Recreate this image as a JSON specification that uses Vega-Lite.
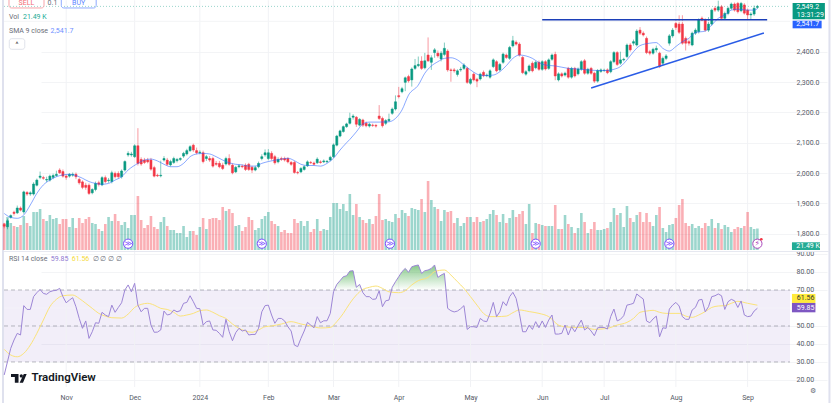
{"$schema":"https://vega.github.io/schema/vega-lite/v6.json","width":831,"height":403,"autosize":"none","padding":0,"background":"white","config":{"view":{"stroke":null},"font":"Roboto"},
"datasets":{
"bars":[
{"b":-1,"o":1831,"h":1836,"l":1818,"c":1825,"v":27,"r":22.8},{"b":0,"o":1823,"h":1850,"l":1815,"c":1843,"v":33,"r":30.2},{"b":1,"o":1854,"h":1864,"l":1850,"c":1860,"v":27,"r":37.6},{"b":2,"o":1871,"h":1876,"l":1860,"c":1867,"v":24,"r":42.2},{"b":3,"o":1869,"h":1893,"l":1865,"c":1885,"v":23,"r":45.9},{"b":4,"o":1885,"h":1890,"l":1874,"c":1878,"v":25,"r":45},{"b":5,"o":1872,"h":1942,"l":1866,"c":1938,"v":34,"r":61.3},{"b":6,"o":1936,"h":1941,"l":1925,"c":1931,"v":27,"r":59.2},{"b":7,"o":1931,"h":1940,"l":1925,"c":1935,"v":24,"r":59.2},{"b":8,"o":1931,"h":1970,"l":1926,"c":1964,"v":38,"r":66.3},{"b":9,"o":1960,"h":1982,"l":1956,"c":1977,"v":38,"r":68.5},{"b":10,"o":1986,"h":2005,"l":1980,"c":1990,"v":41,"r":70.3},{"b":11,"o":1985,"h":1991,"l":1978,"c":1983,"v":31,"r":68.1},{"b":12,"o":1977,"h":1988,"l":1970,"c":1979,"v":29,"r":67.6},{"b":13,"o":1977,"h":1995,"l":1972,"c":1990,"v":35,"r":69},{"b":14,"o":1986,"h":1998,"l":1980,"c":1992,"v":31,"r":69.6},{"b":15,"o":1992,"h":2008,"l":1988,"c":1996,"v":32,"r":69.8},{"b":16,"o":2010,"h":2016,"l":1997,"c":2001,"v":26,"r":70.9},{"b":17,"o":2005,"h":2012,"l":1985,"c":1990,"v":31,"r":66.3},{"b":18,"o":1990,"h":1996,"l":1978,"c":1986,"v":31,"r":62.9},{"b":19,"o":1990,"h":2000,"l":1985,"c":1996,"v":23,"r":64.4},{"b":20,"o":1993,"h":2002,"l":1988,"c":1996,"v":32,"r":65.7},{"b":21,"o":1996,"h":2002,"l":1980,"c":1988,"v":22,"r":60.7},{"b":22,"o":1979,"h":1985,"l":1962,"c":1968,"v":32,"r":54.2},{"b":23,"o":1971,"h":1976,"l":1947,"c":1953,"v":27,"r":48.7},{"b":24,"o":1960,"h":1968,"l":1945,"c":1953,"v":31,"r":52.8},{"b":25,"o":1960,"h":1966,"l":1928,"c":1933,"v":33,"r":43.1},{"b":26,"o":1935,"h":1950,"l":1930,"c":1946,"v":27,"r":46.8},{"b":27,"o":1946,"h":1972,"l":1940,"c":1966,"v":26,"r":51.8},{"b":28,"o":1968,"h":1975,"l":1956,"c":1963,"v":21,"r":51.5},{"b":29,"o":1961,"h":1990,"l":1957,"c":1985,"v":19,"r":57.6},{"b":30,"o":1985,"h":1992,"l":1966,"c":1972,"v":26,"r":56.1},{"b":31,"o":1975,"h":1984,"l":1968,"c":1977,"v":33,"r":55.2},{"b":32,"o":1972,"h":2008,"l":1966,"c":2001,"v":29,"r":61.6},{"b":33,"o":1999,"h":2005,"l":1982,"c":1988,"v":36,"r":57.6},{"b":34,"o":1999,"h":2006,"l":1982,"c":1988,"v":29,"r":60.3},{"b":35,"o":1988,"h":2012,"l":1982,"c":2007,"v":25,"r":62.9},{"b":36,"o":2010,"h":2042,"l":2005,"c":2038,"v":28,"r":70},{"b":37,"o":2060,"h":2072,"l":2054,"c":2065,"v":22,"r":72.8},{"b":38,"o":2060,"h":2070,"l":2054,"c":2063,"v":35,"r":69},{"b":39,"o":2054,"h":2095,"l":2050,"c":2090,"v":35,"r":73.7},{"b":40,"o":2090,"h":2148,"l":2025,"c":2032,"v":54,"r":61.6},{"b":41,"o":2045,"h":2052,"l":2024,"c":2030,"v":30,"r":57.9},{"b":42,"o":2043,"h":2050,"l":2030,"c":2035,"v":22,"r":59.8},{"b":43,"o":2043,"h":2050,"l":2032,"c":2037,"v":25,"r":59.8},{"b":44,"o":2043,"h":2050,"l":2008,"c":2013,"v":34,"r":50.5},{"b":45,"o":2018,"h":2024,"l":1986,"c":1990,"v":23,"r":46.5},{"b":46,"o":1993,"h":1998,"l":1987,"c":1991,"v":21,"r":46.6},{"b":47,"o":1991,"h":2041,"l":1986,"c":1993,"v":28,"r":47.8},{"b":48,"o":2043,"h":2056,"l":2038,"c":2048,"v":33,"r":58.3},{"b":49,"o":2043,"h":2050,"l":2024,"c":2029,"v":24,"r":56.1},{"b":50,"o":2027,"h":2044,"l":2022,"c":2038,"v":20,"r":56.6},{"b":51,"o":2035,"h":2054,"l":2030,"c":2048,"v":20,"r":58.9},{"b":52,"o":2041,"h":2050,"l":2035,"c":2045,"v":17,"r":57.9},{"b":53,"o":2045,"h":2052,"l":2040,"c":2048,"v":17,"r":58.5},{"b":54,"o":2056,"h":2070,"l":2050,"c":2065,"v":24,"r":62.6},{"b":55,"o":2063,"h":2080,"l":2058,"c":2074,"v":13,"r":63.1},{"b":56,"o":2074,"h":2092,"l":2070,"c":2087,"v":19,"r":66.8},{"b":57,"o":2092,"h":2097,"l":2070,"c":2076,"v":19,"r":63.5},{"b":58,"o":2074,"h":2084,"l":2062,"c":2067,"v":15,"r":59.8},{"b":59,"o":2067,"h":2075,"l":2062,"c":2069,"v":23,"r":59.6},{"b":60,"o":2067,"h":2074,"l":2032,"c":2038,"v":32,"r":50.5},{"b":61,"o":2048,"h":2060,"l":2040,"c":2054,"v":21,"r":52.4},{"b":62,"o":2048,"h":2056,"l":2037,"c":2043,"v":31,"r":52.8},{"b":63,"o":2048,"h":2054,"l":2018,"c":2023,"v":32,"r":47.8},{"b":64,"o":2032,"h":2040,"l":2024,"c":2029,"v":32,"r":47.6},{"b":65,"o":2032,"h":2040,"l":2016,"c":2021,"v":30,"r":45.9},{"b":66,"o":2026,"h":2034,"l":2010,"c":2015,"v":43,"r":43.7},{"b":67,"o":2030,"h":2054,"l":2025,"c":2048,"v":39,"r":53.7},{"b":68,"o":2048,"h":2062,"l":2024,"c":2029,"v":41,"r":46.8},{"b":69,"o":2026,"h":2032,"l":1996,"c":2001,"v":37,"r":41.8},{"b":70,"o":2004,"h":2024,"l":2000,"c":2019,"v":24,"r":46.3},{"b":71,"o":2021,"h":2030,"l":2016,"c":2024,"v":25,"r":48.7},{"b":72,"o":2023,"h":2028,"l":2016,"c":2021,"v":19,"r":47.2},{"b":73,"o":2026,"h":2032,"l":2007,"c":2012,"v":23,"r":47.8},{"b":74,"o":2029,"h":2034,"l":2007,"c":2012,"v":33,"r":45},{"b":75,"o":2019,"h":2024,"l":2000,"c":2010,"v":30,"r":45.3},{"b":76,"o":2010,"h":2024,"l":2006,"c":2018,"v":20,"r":45.3},{"b":77,"o":2021,"h":2038,"l":2016,"c":2032,"v":22,"r":48.7},{"b":78,"o":2048,"h":2062,"l":2042,"c":2054,"v":31,"r":57.9},{"b":79,"o":2060,"h":2078,"l":2054,"c":2067,"v":34,"r":61.3},{"b":80,"o":2048,"h":2079,"l":2042,"c":2067,"v":38,"r":61.6},{"b":81,"o":2065,"h":2072,"l":2042,"c":2048,"v":29,"r":56.1},{"b":82,"o":2054,"h":2060,"l":2028,"c":2034,"v":26,"r":51.5},{"b":83,"o":2037,"h":2052,"l":2032,"c":2045,"v":24,"r":54.2},{"b":84,"o":2048,"h":2054,"l":2040,"c":2045,"v":18,"r":54.2},{"b":85,"o":2048,"h":2054,"l":2038,"c":2043,"v":20,"r":52.8},{"b":86,"o":2048,"h":2052,"l":2032,"c":2037,"v":17,"r":49.6},{"b":87,"o":2035,"h":2040,"l":2024,"c":2029,"v":17,"r":47.2},{"b":88,"o":2035,"h":2040,"l":1998,"c":2002,"v":31,"r":39.4},{"b":89,"o":2002,"h":2007,"l":1996,"c":2001,"v":27,"r":38.5},{"b":90,"o":2004,"h":2020,"l":2000,"c":2015,"v":29,"r":43.1},{"b":91,"o":2012,"h":2026,"l":2008,"c":2021,"v":24,"r":47.2},{"b":92,"o":2024,"h":2042,"l":2020,"c":2037,"v":29,"r":52},{"b":93,"o":2035,"h":2040,"l":2030,"c":2034,"v":18,"r":50.5},{"b":94,"o":2033,"h":2038,"l":2025,"c":2029,"v":21,"r":49},{"b":95,"o":2034,"h":2052,"l":2030,"c":2046,"v":31,"r":55.2},{"b":96,"o":2037,"h":2042,"l":2031,"c":2035,"v":19,"r":51.8},{"b":97,"o":2037,"h":2045,"l":2033,"c":2040,"v":21,"r":52.9},{"b":98,"o":2037,"h":2043,"l":2034,"c":2039,"v":20,"r":52.9},{"b":99,"o":2043,"h":2057,"l":2039,"c":2052,"v":33,"r":57},{"b":100,"o":2054,"h":2098,"l":2050,"c":2093,"v":47,"r":69},{"b":101,"o":2092,"h":2126,"l":2088,"c":2122,"v":47,"r":73.1},{"b":102,"o":2122,"h":2143,"l":2118,"c":2139,"v":41,"r":75.2},{"b":103,"o":2137,"h":2157,"l":2133,"c":2153,"v":46,"r":77.4},{"b":104,"o":2153,"h":2166,"l":2149,"c":2162,"v":39,"r":77.9},{"b":105,"o":2164,"h":2199,"l":2160,"c":2181,"v":56,"r":80.5},{"b":106,"o":2184,"h":2194,"l":2176,"c":2188,"v":35,"r":80.7},{"b":107,"o":2184,"h":2188,"l":2152,"c":2161,"v":46,"r":71.5},{"b":108,"o":2158,"h":2181,"l":2154,"c":2177,"v":33,"r":73.1},{"b":109,"o":2175,"h":2179,"l":2152,"c":2158,"v":30,"r":68.5},{"b":110,"o":2164,"h":2170,"l":2151,"c":2156,"v":27,"r":66.3},{"b":111,"o":2155,"h":2166,"l":2150,"c":2161,"v":31,"r":66.3},{"b":112,"o":2158,"h":2163,"l":2152,"c":2157,"v":26,"r":64.8},{"b":113,"o":2157,"h":2162,"l":2150,"c":2155,"v":34,"r":65},{"b":114,"o":2188,"h":2224,"l":2175,"c":2180,"v":56,"r":69.6},{"b":115,"o":2180,"h":2186,"l":2150,"c":2156,"v":30,"r":60.7},{"b":116,"o":2164,"h":2178,"l":2158,"c":2173,"v":31,"r":64},{"b":117,"o":2173,"h":2196,"l":2168,"c":2177,"v":29,"r":64.4},{"b":118,"o":2197,"h":2216,"l":2192,"c":2211,"v":28,"r":71.5},{"b":119,"o":2211,"h":2256,"l":2206,"c":2235,"v":36,"r":74.6},{"b":120,"o":2255,"h":2284,"l":2246,"c":2252,"v":32,"r":77.4},{"b":121,"o":2268,"h":2284,"l":2263,"c":2278,"v":40,"r":80.2},{"b":122,"o":2299,"h":2318,"l":2270,"c":2314,"v":37,"r":82},{"b":123,"o":2318,"h":2324,"l":2298,"c":2304,"v":34,"r":79.8},{"b":124,"o":2307,"h":2348,"l":2285,"c":2343,"v":42,"r":82.9},{"b":125,"o":2345,"h":2376,"l":2340,"c":2354,"v":41,"r":83.5},{"b":126,"o":2354,"h":2384,"l":2349,"c":2358,"v":40,"r":83.9},{"b":127,"o":2369,"h":2385,"l":2340,"c":2345,"v":51,"r":79.2},{"b":128,"o":2347,"h":2396,"l":2342,"c":2370,"v":38,"r":80.7},{"b":129,"o":2389,"h":2447,"l":2366,"c":2370,"v":69,"r":81.1},{"b":130,"o":2365,"h":2388,"l":2340,"c":2380,"v":50,"r":82},{"b":131,"o":2397,"h":2412,"l":2380,"c":2406,"v":43,"r":83.9},{"b":132,"o":2395,"h":2404,"l":2380,"c":2386,"v":41,"r":77},{"b":133,"o":2376,"h":2402,"l":2368,"c":2395,"v":29,"r":78.3},{"b":134,"o":2391,"h":2430,"l":2385,"c":2411,"v":40,"r":79.2},{"b":135,"o":2402,"h":2408,"l":2334,"c":2340,"v":38,"r":59.8},{"b":136,"o":2340,"h":2345,"l":2301,"c":2338,"v":39,"r":58.5},{"b":137,"o":2340,"h":2346,"l":2331,"c":2337,"v":27,"r":57.8},{"b":138,"o":2325,"h":2342,"l":2318,"c":2337,"v":32,"r":58.3},{"b":139,"o":2340,"h":2350,"l":2334,"c":2342,"v":24,"r":59.6},{"b":140,"o":2345,"h":2362,"l":2340,"c":2356,"v":27,"r":61.3},{"b":141,"o":2345,"h":2350,"l":2294,"c":2299,"v":33,"r":48.1},{"b":142,"o":2296,"h":2314,"l":2291,"c":2309,"v":33,"r":49.6},{"b":143,"o":2326,"h":2332,"l":2302,"c":2307,"v":28,"r":49.6},{"b":144,"o":2309,"h":2314,"l":2283,"c":2303,"v":33,"r":49.2},{"b":145,"o":2310,"h":2331,"l":2305,"c":2326,"v":28,"r":54.2},{"b":146,"o":2332,"h":2338,"l":2316,"c":2321,"v":29,"r":52.8},{"b":147,"o":2321,"h":2328,"l":2316,"c":2323,"v":31,"r":52.4},{"b":148,"o":2316,"h":2342,"l":2311,"c":2337,"v":36,"r":57},{"b":149,"o":2351,"h":2378,"l":2346,"c":2373,"v":40,"r":63.1},{"b":150,"o":2367,"h":2372,"l":2332,"c":2337,"v":35,"r":55.2},{"b":151,"o":2340,"h":2363,"l":2335,"c":2358,"v":28,"r":57.9},{"b":152,"o":2365,"h":2397,"l":2360,"c":2392,"v":36,"r":63.5},{"b":153,"o":2389,"h":2394,"l":2376,"c":2381,"v":27,"r":61.3},{"b":154,"o":2378,"h":2419,"l":2373,"c":2414,"v":32,"r":66.3},{"b":155,"o":2419,"h":2452,"l":2414,"c":2436,"v":40,"r":68.7},{"b":156,"o":2431,"h":2437,"l":2420,"c":2425,"v":33,"r":65.3},{"b":157,"o":2425,"h":2431,"l":2384,"c":2389,"v":36,"r":57},{"b":158,"o":2381,"h":2386,"l":2326,"c":2331,"v":39,"r":46.8},{"b":159,"o":2326,"h":2339,"l":2321,"c":2334,"v":26,"r":46.8},{"b":160,"o":2337,"h":2358,"l":2332,"c":2353,"v":46,"r":50.5},{"b":161,"o":2362,"h":2368,"l":2332,"c":2337,"v":17,"r":48.1},{"b":162,"o":2347,"h":2370,"l":2342,"c":2365,"v":27,"r":52.4},{"b":163,"o":2365,"h":2371,"l":2337,"c":2342,"v":26,"r":49},{"b":164,"o":2342,"h":2372,"l":2337,"c":2367,"v":25,"r":52.8},{"b":165,"o":2367,"h":2372,"l":2338,"c":2343,"v":24,"r":49.2},{"b":166,"o":2345,"h":2378,"l":2340,"c":2373,"v":24,"r":53.3},{"b":167,"o":2375,"h":2394,"l":2370,"c":2389,"v":24,"r":56.1},{"b":168,"o":2391,"h":2400,"l":2306,"c":2320,"v":45,"r":45.5},{"b":169,"o":2307,"h":2332,"l":2302,"c":2327,"v":21,"r":45.5},{"b":170,"o":2327,"h":2332,"l":2315,"c":2320,"v":21,"r":45.9},{"b":171,"o":2323,"h":2334,"l":2318,"c":2329,"v":35,"r":50.5},{"b":172,"o":2345,"h":2350,"l":2311,"c":2316,"v":26,"r":45},{"b":173,"o":2316,"h":2350,"l":2311,"c":2345,"v":23,"r":49.6},{"b":174,"o":2345,"h":2350,"l":2315,"c":2320,"v":17,"r":46.8},{"b":175,"o":2327,"h":2348,"l":2322,"c":2343,"v":22,"r":50.2},{"b":176,"o":2342,"h":2372,"l":2337,"c":2367,"v":37,"r":53.3},{"b":177,"o":2370,"h":2376,"l":2324,"c":2329,"v":28,"r":47.8},{"b":178,"o":2329,"h":2347,"l":2324,"c":2342,"v":17,"r":49.2},{"b":179,"o":2345,"h":2350,"l":2324,"c":2329,"v":21,"r":47.2},{"b":180,"o":2329,"h":2334,"l":2297,"c":2303,"v":28,"r":44.6},{"b":181,"o":2303,"h":2343,"l":2298,"c":2338,"v":20,"r":49},{"b":182,"o":2335,"h":2345,"l":2330,"c":2340,"v":20,"r":49.2},{"b":183,"o":2338,"h":2344,"l":2333,"c":2339,"v":21,"r":49.2},{"b":184,"o":2340,"h":2345,"l":2326,"c":2331,"v":22,"r":48.3},{"b":185,"o":2334,"h":2372,"l":2329,"c":2367,"v":28,"r":55.2},{"b":186,"o":2367,"h":2402,"l":2362,"c":2397,"v":42,"r":59.4},{"b":187,"o":2397,"h":2402,"l":2353,"c":2358,"v":35,"r":52.8},{"b":188,"o":2362,"h":2400,"l":2357,"c":2373,"v":37,"r":53.7},{"b":189,"o":2373,"h":2380,"l":2368,"c":2375,"v":23,"r":55.7},{"b":190,"o":2384,"h":2427,"l":2379,"c":2422,"v":44,"r":61.6},{"b":191,"o":2422,"h":2428,"l":2400,"c":2406,"v":32,"r":62},{"b":192,"o":2428,"h":2440,"l":2420,"c":2433,"v":28,"r":62.6},{"b":193,"o":2422,"h":2474,"l":2417,"c":2468,"v":35,"r":67.8},{"b":194,"o":2471,"h":2481,"l":2455,"c":2461,"v":38,"r":66.3},{"b":195,"o":2461,"h":2467,"l":2450,"c":2455,"v":28,"r":65},{"b":196,"o":2444,"h":2450,"l":2392,"c":2397,"v":37,"r":52.8},{"b":197,"o":2400,"h":2406,"l":2388,"c":2395,"v":28,"r":51.8},{"b":198,"o":2395,"h":2413,"l":2390,"c":2408,"v":24,"r":53.9},{"b":199,"o":2406,"h":2420,"l":2398,"c":2411,"v":35,"r":55.5},{"b":200,"o":2395,"h":2400,"l":2346,"c":2351,"v":43,"r":44},{"b":201,"o":2362,"h":2384,"l":2355,"c":2378,"v":22,"r":49},{"b":202,"o":2378,"h":2392,"l":2372,"c":2386,"v":18,"r":48.7},{"b":203,"o":2428,"h":2458,"l":2420,"c":2452,"v":25,"r":59.4},{"b":204,"o":2452,"h":2478,"l":2446,"c":2471,"v":26,"r":61.6},{"b":205,"o":2493,"h":2506,"l":2472,"c":2480,"v":32,"r":63.1},{"b":206,"o":2491,"h":2520,"l":2458,"c":2464,"v":45,"r":61.1},{"b":207,"o":2491,"h":2520,"l":2423,"c":2428,"v":51,"r":55.2},{"b":208,"o":2444,"h":2450,"l":2404,"c":2428,"v":27,"r":53.7},{"b":209,"o":2433,"h":2440,"l":2420,"c":2428,"v":24,"r":53.7},{"b":210,"o":2422,"h":2466,"l":2418,"c":2461,"v":26,"r":58.9},{"b":211,"o":2461,"h":2477,"l":2455,"c":2471,"v":22,"r":60.3},{"b":212,"o":2466,"h":2510,"l":2460,"c":2504,"v":24,"r":64.4},{"b":213,"o":2510,"h":2516,"l":2498,"c":2504,"v":22,"r":64.8},{"b":214,"o":2504,"h":2510,"l":2466,"c":2471,"v":27,"r":57.9},{"b":215,"o":2471,"h":2514,"l":2465,"c":2491,"v":24,"r":60.7},{"b":216,"o":2491,"h":2542,"l":2486,"c":2537,"v":31,"r":66.3},{"b":217,"o":2543,"h":2550,"l":2531,"c":2537,"v":22,"r":66.8},{"b":218,"o":2537,"h":2568,"l":2531,"c":2548,"v":27,"r":67.8},{"b":219,"o":2548,"h":2554,"l":2504,"c":2510,"v":21,"r":66.8},{"b":220,"o":2510,"h":2532,"l":2505,"c":2526,"v":25,"r":59.2},{"b":221,"o":2526,"h":2548,"l":2520,"c":2543,"v":23,"r":63.5},{"b":222,"o":2543,"h":2562,"l":2538,"c":2557,"v":18,"r":64.8},{"b":223,"o":2557,"h":2562,"l":2532,"c":2537,"v":21,"r":64},{"b":224,"o":2559,"h":2564,"l":2526,"c":2532,"v":23,"r":60.3},{"b":225,"o":2535,"h":2564,"l":2530,"c":2559,"v":22,"r":63.9},{"b":226,"o":2554,"h":2560,"l":2522,"c":2527,"v":24,"r":56.1},{"b":227,"o":2537,"h":2542,"l":2505,"c":2521,"v":38,"r":55.2},{"b":228,"o":2521,"h":2530,"l":2505,"c":2524,"v":23,"r":55.5},{"b":229,"o":2524,"h":2552,"l":2518,"c":2543,"v":21,"r":58.3},{"b":230,"o":2546,"h":2554,"l":2541,"c":2549.2,"v":21.49,"r":59.85}],
"sma":[{"b":-1,"m":1867},{"b":1,"m":1854},{"b":3,"m":1851},{"b":5,"m":1862},{"b":7,"m":1895},{"b":9,"m":1933},{"b":11,"m":1961},{"b":13,"m":1977},{"b":15,"m":1988},{"b":17,"m":1994},{"b":19,"m":1996},{"b":21,"m":1992},{"b":23,"m":1983},{"b":25,"m":1972},{"b":27,"m":1966},{"b":29,"m":1963},{"b":31,"m":1966},{"b":33,"m":1977},{"b":35,"m":1988},{"b":37,"m":2010},{"b":40,"m":2032},{"b":42,"m":2043},{"b":44,"m":2046},{"b":46,"m":2040},{"b":48,"m":2029},{"b":50,"m":2021},{"b":52,"m":2021},{"b":54,"m":2032},{"b":56,"m":2054},{"b":58,"m":2063},{"b":60,"m":2065},{"b":62,"m":2063},{"b":64,"m":2054},{"b":66,"m":2043},{"b":68,"m":2034},{"b":70,"m":2029},{"b":72,"m":2027},{"b":74,"m":2023},{"b":76,"m":2023},{"b":78,"m":2032},{"b":80,"m":2038},{"b":84,"m":2046},{"b":86,"m":2049},{"b":88,"m":2041},{"b":90,"m":2029},{"b":92,"m":2025},{"b":94,"m":2025},{"b":96,"m":2023},{"b":98,"m":2032},{"b":100,"m":2049},{"b":102,"m":2076},{"b":104,"m":2100},{"b":105,"m":2111},{"b":107,"m":2136},{"b":109,"m":2162},{"b":111,"m":2168},{"b":114,"m":2168},{"b":117,"m":2169},{"b":119,"m":2180},{"b":121,"m":2208},{"b":123,"m":2257},{"b":126,"m":2290},{"b":128,"m":2329},{"b":130,"m":2353},{"b":132,"m":2367},{"b":134,"m":2378},{"b":136,"m":2380},{"b":138,"m":2373},{"b":140,"m":2356},{"b":142,"m":2340},{"b":144,"m":2326},{"b":146,"m":2321},{"b":149,"m":2323},{"b":151,"m":2334},{"b":153,"m":2354},{"b":155,"m":2378},{"b":157,"m":2389},{"b":159,"m":2386},{"b":161,"m":2378},{"b":163,"m":2364},{"b":165,"m":2356},{"b":168,"m":2353},{"b":172,"m":2345},{"b":175,"m":2343},{"b":178,"m":2340},{"b":181,"m":2338},{"b":184,"m":2338},{"b":186,"m":2342},{"b":188,"m":2351},{"b":190,"m":2373},{"b":192,"m":2400},{"b":194,"m":2420},{"b":197,"m":2428},{"b":199,"m":2430},{"b":201,"m":2411},{"b":203,"m":2402},{"b":205,"m":2417},{"b":207,"m":2433},{"b":209,"m":2444},{"b":211,"m":2463},{"b":214,"m":2468},{"b":216,"m":2488},{"b":218,"m":2510},{"b":220,"m":2521},{"b":222,"m":2537},{"b":224,"m":2540},{"b":227,"m":2537},{"b":229,"m":2537},{"b":230,"m":2541.7}],
"rsiMa":[{"b":-1,"m":37},{"b":1,"m":33.9},{"b":3,"m":32.9},{"b":5,"m":34.8},{"b":7,"m":39.4},{"b":9,"m":45.9},{"b":11,"m":53.3},{"b":13,"m":60.7},{"b":15,"m":64.8},{"b":17,"m":66.8},{"b":20,"m":67.2},{"b":22,"m":65.3},{"b":24,"m":62.6},{"b":26,"m":59.8},{"b":28,"m":57},{"b":30,"m":55.5},{"b":32,"m":54.6},{"b":35,"m":54.4},{"b":37,"m":56.6},{"b":39,"m":60.3},{"b":41,"m":62},{"b":43,"m":62.6},{"b":45,"m":61.6},{"b":47,"m":59.8},{"b":49,"m":59.2},{"b":51,"m":57.6},{"b":53,"m":55.5},{"b":55,"m":56.1},{"b":57,"m":57},{"b":59,"m":58.5},{"b":61,"m":58.9},{"b":63,"m":57.6},{"b":65,"m":55.7},{"b":67,"m":54.2},{"b":69,"m":51.1},{"b":71,"m":48.7},{"b":73,"m":47.2},{"b":75,"m":46.5},{"b":77,"m":47.8},{"b":79,"m":49.6},{"b":81,"m":50},{"b":84,"m":51.1},{"b":87,"m":52.4},{"b":90,"m":51.1},{"b":93,"m":50},{"b":96,"m":48.9},{"b":99,"m":49.2},{"b":101,"m":52.4},{"b":103,"m":57},{"b":105,"m":62.6},{"b":107,"m":67.2},{"b":109,"m":70.3},{"b":111,"m":71.5},{"b":113,"m":72.2},{"b":115,"m":70.9},{"b":117,"m":69},{"b":120,"m":68.5},{"b":122,"m":69.6},{"b":124,"m":72.8},{"b":126,"m":75.2},{"b":129,"m":77},{"b":131,"m":80.2},{"b":134,"m":81.1},{"b":136,"m":78.3},{"b":138,"m":74.6},{"b":140,"m":70.9},{"b":142,"m":66.3},{"b":144,"m":61.6},{"b":146,"m":57},{"b":148,"m":55.2},{"b":150,"m":55.2},{"b":153,"m":55.5},{"b":155,"m":57.4},{"b":157,"m":58.9},{"b":160,"m":58},{"b":163,"m":57},{"b":166,"m":55.2},{"b":169,"m":50.5},{"b":171,"m":49.6},{"b":174,"m":49.2},{"b":177,"m":49.2},{"b":180,"m":48.1},{"b":184,"m":48.7},{"b":187,"m":50.5},{"b":190,"m":52},{"b":192,"m":54.2},{"b":194,"m":57.6},{"b":196,"m":58.3},{"b":198,"m":58.7},{"b":200,"m":57.6},{"b":202,"m":57},{"b":206,"m":57},{"b":208,"m":55.5},{"b":210,"m":54.8},{"b":212,"m":56.1},{"b":214,"m":58},{"b":216,"m":60.3},{"b":218,"m":61.1},{"b":220,"m":61.3},{"b":222,"m":62.6},{"b":224,"m":63.7},{"b":227,"m":62.6},{"b":230,"m":61.56}],
"overbought":[{"b":100.2,"r":70,"s":"a"},{"b":101,"r":73.1,"s":"a"},{"b":102,"r":75.2,"s":"a"},{"b":103,"r":77.4,"s":"a"},{"b":104,"r":77.9,"s":"a"},{"b":105,"r":80.5,"s":"a"},{"b":106,"r":80.7,"s":"a"},{"b":107,"r":71.5,"s":"a"},{"b":108,"r":73.1,"s":"a"},{"b":108.7,"r":70,"s":"a"},{"b":117.8,"r":70,"s":"b"},{"b":118,"r":71.5,"s":"b"},{"b":119,"r":74.6,"s":"b"},{"b":120,"r":77.4,"s":"b"},{"b":121,"r":80.2,"s":"b"},{"b":122,"r":82,"s":"b"},{"b":123,"r":79.8,"s":"b"},{"b":124,"r":82.9,"s":"b"},{"b":125,"r":83.5,"s":"b"},{"b":126,"r":83.9,"s":"b"},{"b":127,"r":79.2,"s":"b"},{"b":128,"r":80.7,"s":"b"},{"b":129,"r":81.1,"s":"b"},{"b":130,"r":82,"s":"b"},{"b":131,"r":83.9,"s":"b"},{"b":132,"r":77,"s":"b"},{"b":133,"r":78.3,"s":"b"},{"b":134,"r":79.2,"s":"b"},{"b":134.5,"r":70,"s":"b"}],
"months":[{"b":18},{"b":39},{"b":59},{"b":80},{"b":100},{"b":120},{"b":142},{"b":164},{"b":183},{"b":205},{"b":227}],
"levels":[{"b":-1.07,"b1":240,"y":70},{"b":-1.07,"b1":240,"y":50},{"b":-1.07,"b1":240,"y":30}],
"gridR":[{"b":-1.07,"b1":240,"y":60}],
"gridP":[{"b":-1.07,"b1":240,"p":2500}],
"band":[{"b":-1.07,"b1":240,"hi":70,"lo":30}],
"edges":[{"b":-1.38},{"b":252.1}],
"trend":[{"b":164,"p":2505.4,"s":"level"},{"b":233,"p":2505.4,"s":"level"},{"b":179,"p":2280.3,"s":"rising"},{"b":232,"p":2461.6,"s":"rising"}],
"last":[{"b":-1.07,"b1":240,"p":2549.2}],
"boxes":[{"b":0.46,"b1":11.2,"p":2590,"p1":2544,"k":"sell"},{"b":16.5,"b1":27.2,"p":2590,"p1":2544,"k":"buy"},{"b":0.55,"b1":5.3,"p":2442.8,"p1":2407.9,"k":"plain"}],
"priceTags":[{"b":240.8,"b1":250.7,"p":2560.4,"p1":2506.7,"k":"green"},{"b":240.8,"b1":249.7,"p":2502.1,"p1":2477,"k":"blue"}],
"rsiTags":[{"b":240.6,"b1":247.8,"r":67.8,"r1":62.8,"k":"yellow"},{"b":240.6,"b1":247.8,"r":62.8,"r1":57.6,"k":"purple"}],
"priceText":[{"b":5.8,"p":2558.8,"t":"SELL","k":"sell"},{"b":21.8,"p":2558.8,"t":"BUY","k":"buy"},{"b":13.8,"p":2560,"t":"0.1","k":"grey"},{"b":2.9,"p":2423,"t":"^","k":"dark"}],
"priceLeft":[{"b":0.46,"p":2514.3,"t":"Vol","k":"grey"},{"b":4.75,"p":2514.3,"t":"21.49 K","k":"teal"},{"b":0.46,"p":2469.8,"t":"SMA 9 close","k":"grey"},{"b":13.2,"p":2469.8,"t":"2,541.7","k":"blue"},{"b":241.9,"p":2547.2,"t":"2,549.2","k":"white"},{"b":242.1,"p":2520.8,"t":"13:31:29","k":"white"},{"b":241.9,"p":2489.6,"t":"2,541.7","k":"white"}],
"rsiText":[{"b":0.46,"r":87.2,"t":"RSI 14 close","k":"grey"},{"b":13.3,"r":87.2,"t":"59.85","k":"purple"},{"b":19.7,"r":87.2,"t":"61.56","k":"yellow"},{"b":26.1,"r":87.2,"t":"∅ ∅ ∅ ∅","k":"grey"},{"b":242.1,"r":65.3,"t":"61.56","k":"dark"},{"b":242.1,"r":60.2,"t":"59.85","k":"white"},{"b":246.1,"r":13.9,"t":"⚙","k":"grey"}],
"logo":[{"b":3.48,"r":20.94}],
"brand":[{"b":7.36,"r":20.94,"t":"TradingView"}],
"events":[{"b":37,"v":6.3,"t":"≫","k":"split"},{"b":78,"v":6.3,"t":"≫","k":"split"},{"b":117.3,"v":6.3,"t":"≫","k":"split"},{"b":162,"v":6.3,"t":"≫","k":"split"},{"b":203,"v":6.3,"t":"≫","k":"split"},{"b":230,"v":6.3,"t":"⚡","k":"earn"}],
"alert":[{"b":231.2,"v":10.7}],
"volTag":[{"b":240.6,"b1":249.2,"v":7.7,"v1":0}],
"volText":[{"b":241.9,"v":4,"t":"21.49 K"}],
"sep":[{"b":-1.07,"b1":252,"v":-1.5}]
},
"encoding":{"x":{"field":"b","type":"quantitative","scale":{"domain":[-1.07,240],"range":[4,790],"nice":false,"zero":false,"padding":0},"title":null,"axis":{"orient":"bottom","offset":-16,"values":[18,39,59,80,100,120,142,164,183,205,227],"labelExpr":"{'18':'Nov','39':'Dec','59':'2024','80':'Feb','100':'Mar','120':'Apr','142':'May','164':'Jun','183':'Jul','205':'Aug','227':'Sep'}[datum.value]","grid":false,"domain":false,"ticks":false,"labelFontSize":7,"labelColor":"#555a66","labelPadding":6,"labelFlush":false,"labelOverlap":false}}},
"layer":[
{"layer":[
{"data":{"name":"edges"},"mark":{"type":"rule","color":"#dfe1ee","strokeWidth":2},"encoding":{}},
{"data":{"name":"band"},"mark":{"type":"rect","color":"#7e57c2","opacity":0.1},"encoding":{"x2":{"field":"b1"},"y":{"field":"hi","type":"quantitative","scale":{"domain":[16.1,92.22],"range":[387,250],"nice":false,"zero":false,"padding":0},"title":null,"axis":{"orient":"right","offset":-41,"values":[20,30,40,50,70,80,90],"format":".2f","grid":true,"gridColor":"#f3f4f6","gridWidth":1,"domain":false,"ticks":false,"labelPadding":6,"labelFontSize":7,"labelColor":"#555a66","labelFlush":false,"labelOverlap":false}},"y2":{"field":"lo"}}},
{"data":{"name":"gridR"},"mark":{"type":"rule","color":"#f3f4f6","opacity":0.6,"strokeWidth":1},"encoding":{"x2":{"field":"b1"},"y":{"field":"y","type":"quantitative","title":null}}},
{"data":{"name":"months"},"mark":{"type":"rule","color":"#f1f2f5","strokeWidth":1},"encoding":{"y":{"datum":231,"type":"quantitative","title":null},"y2":{"datum":16.1}}},
{"data":{"name":"levels"},"mark":{"type":"rule","color":"#787b86","opacity":0.5,"strokeWidth":1,"strokeDash":[4,3]},"encoding":{"x2":{"field":"b1"},"y":{"field":"y","type":"quantitative","title":null}}},
{"data":{"name":"overbought"},"mark":{"type":"area","line":false,"color":{"gradient":"linear","x1":0,"y1":0,"x2":0,"y2":1,"stops":[{"offset":0,"color":"#4caf50aa"},{"offset":1,"color":"#4caf5000"}]}},"encoding":{"y":{"field":"r","type":"quantitative","title":null},"y2":{"datum":70},"detail":{"field":"s"}}},
{"data":{"name":"rsiMa"},"mark":{"type":"line","color":"#fbe37a","strokeWidth":1,"interpolate":"monotone"},"encoding":{"y":{"field":"m","type":"quantitative","title":null}}},
{"data":{"name":"bars"},"mark":{"type":"line","color":"#9d86d6","strokeWidth":1},"encoding":{"y":{"field":"r","type":"quantitative","title":null}}},
{"data":{"name":"rsiTags"},"mark":{"type":"rect"},"encoding":{"x2":{"field":"b1"},"y":{"field":"r","type":"quantitative","title":null},"y2":{"field":"r1"},"fill":{"field":"k","type":"nominal","scale":{"domain":["yellow","purple"],"range":["#ffeb3b","#7e57c2"]},"legend":null}}},
{"data":{"name":"rsiText"},"mark":{"type":"text","align":"left","baseline":"middle","fontSize":7,"font":"Roboto"},"encoding":{"y":{"field":"r","type":"quantitative","title":null},"text":{"field":"t"},"color":{"field":"k","type":"nominal","scale":{"domain":["grey","purple","yellow","dark","white"],"range":["#6a6d78","#8f78d0","#f4d93a","#333333","#ffffff"]},"legend":null}}},
{"data":{"name":"logo"},"mark":{"type":"point","shape":"M-0.98,-0.54 L-0.04,-0.54 L-0.04,0.55 L-0.5,0.55 L-0.5,-0.16 L-0.98,-0.16 Z M0.11,-0.29 A0.2,0.2 0 1 0 0.51,-0.29 A0.2,0.2 0 1 0 0.11,-0.29 Z M0.62,-0.54 L0.98,-0.54 L0.52,0.55 L0.1,0.55 Z","filled":true,"color":"#131722","opacity":1,"size":256},"encoding":{"y":{"field":"r","type":"quantitative","title":null}}},
{"data":{"name":"brand"},"mark":{"type":"text","align":"left","baseline":"middle","fontSize":11.5,"fontWeight":600,"font":"Roboto","color":"#131722"},"encoding":{"y":{"field":"r","type":"quantitative","title":null},"text":{"field":"t"}}}
]},
{"layer":[
{"data":{"name":"bars"},"mark":{"type":"bar","orient":"vertical","size":2.6,"opacity":0.4},"encoding":{"y":{"field":"v","type":"quantitative","stack":null,"scale":{"domain":[0,250],"range":[250,0],"nice":false,"zero":false,"padding":0},"axis":null},"color":{"condition":{"test":"datum.c>=datum.o","value":"#089981"},"value":"#f23645"}}},
{"data":{"name":"sep"},"mark":{"type":"rule","color":"#e6e8f0","strokeWidth":1},"encoding":{"x2":{"field":"b1"},"y":{"field":"v","type":"quantitative","axis":null}}},
{"data":{"name":"events"},"mark":{"type":"point","filled":true,"fill":"white","opacity":1,"strokeWidth":1,"size":85},"encoding":{"y":{"field":"v","type":"quantitative","axis":null},"stroke":{"field":"k","type":"nominal","scale":{"domain":["split","earn"],"range":["#7c4dff","#ab47bc"]},"legend":null}}},
{"data":{"name":"events"},"mark":{"type":"text","fontSize":8,"align":"center","baseline":"middle","font":"DejaVu Sans"},"encoding":{"y":{"field":"v","type":"quantitative","axis":null},"text":{"field":"t"},"color":{"field":"k","type":"nominal","scale":{"domain":["split","earn"],"range":["#7c4dff","#ab47bc"]},"legend":null}}},
{"data":{"name":"alert"},"mark":{"type":"point","filled":true,"color":"#f23645","opacity":1,"size":7},"encoding":{"y":{"field":"v","type":"quantitative","axis":null}}},
{"data":{"name":"volTag"},"mark":{"type":"rect","color":"#22ab94"},"encoding":{"x2":{"field":"b1"},"y":{"field":"v","type":"quantitative","axis":null},"y2":{"field":"v1"}}},
{"data":{"name":"volText"},"mark":{"type":"text","align":"left","baseline":"middle","fontSize":7,"color":"white"},"encoding":{"y":{"field":"v","type":"quantitative","axis":null},"text":{"field":"t"}}}
]},
{"layer":[
{"data":{"name":"bars"},"mark":{"type":"rule","strokeWidth":1,"opacity":0.5},"encoding":{"y":{"field":"l","type":"quantitative","scale":{"domain":[1746.6,2570.3],"range":[250,0],"nice":false,"zero":false,"padding":0},"title":null,"axis":{"orient":"right","offset":-41,"values":[1800,1900,2000,2100,2200,2300,2400],"format":",.1f","grid":true,"gridColor":"#f3f4f6","gridWidth":1,"domain":false,"ticks":false,"labelPadding":6,"labelFontSize":7,"labelColor":"#555a66","labelFlush":false,"labelOverlap":false}},"y2":{"field":"h"},"color":{"condition":{"test":"datum.c>=datum.o","value":"#089981"},"value":"#f23645"}}},
{"data":{"name":"gridP"},"mark":{"type":"rule","color":"#f3f4f6","strokeWidth":1},"encoding":{"x2":{"field":"b1"},"y":{"field":"p","type":"quantitative","title":null}}},
{"data":{"name":"bars"},"mark":{"type":"bar","orient":"vertical","size":2.1,"strokeWidth":0.5},"encoding":{"y":{"field":"o","type":"quantitative","title":null},"y2":{"field":"c"},"color":{"condition":{"test":"datum.c>=datum.o","value":"#089981"},"value":"#f23645"},"stroke":{"condition":{"test":"datum.c>=datum.o","value":"#089981"},"value":"#f23645"}}},
{"data":{"name":"sma"},"mark":{"type":"line","color":"#2962ff","opacity":0.55,"strokeWidth":1,"interpolate":"monotone"},"encoding":{"y":{"field":"m","type":"quantitative","title":null}}},
{"data":{"name":"last"},"mark":{"type":"rule","color":"#089981","opacity":0.4,"strokeWidth":1,"strokeDash":[1,2]},"encoding":{"x2":{"field":"b1"},"y":{"field":"p","type":"quantitative","title":null}}},
{"data":{"name":"trend"},"mark":{"type":"line","strokeWidth":1.5},"encoding":{"y":{"field":"p","type":"quantitative","title":null},"detail":{"field":"s"},"color":{"field":"s","type":"nominal","scale":{"domain":["level","rising","sell","buy","grey","dark","teal","blue","white"],"range":["#1c3fb8","#2a5ce6","#f26a73","#5b83ff","#6a6d78","#333333","#22ab94","#6f8fff","#ffffff"]},"legend":null}}},
{"data":{"name":"boxes"},"mark":{"type":"rect","fill":"white","fillOpacity":0,"strokeWidth":1,"cornerRadius":2.5,"clip":true},"encoding":{"x2":{"field":"b1"},"y":{"field":"p","type":"quantitative","title":null},"y2":{"field":"p1"},"stroke":{"field":"k","type":"nominal","scale":{"domain":["sell","buy","plain"],"range":["#f7a3a8","#8eaaff","#e0e3eb"]},"legend":null}}},
{"data":{"name":"priceText"},"mark":{"type":"text","align":"center","baseline":"middle","fontSize":7},"encoding":{"y":{"field":"p","type":"quantitative","title":null},"text":{"field":"t"},"color":{"field":"k","type":"nominal","scale":{"domain":["level","rising","sell","buy","grey","dark","teal","blue","white"],"range":["#1c3fb8","#2a5ce6","#f26a73","#5b83ff","#6a6d78","#333333","#22ab94","#6f8fff","#ffffff"]},"legend":null}}},
{"data":{"name":"priceTags"},"mark":{"type":"rect"},"encoding":{"x2":{"field":"b1"},"y":{"field":"p","type":"quantitative","title":null},"y2":{"field":"p1"},"fill":{"field":"k","type":"nominal","scale":{"domain":["green","blue"],"range":["#089981","#2962ff"]},"legend":null}}},
{"data":{"name":"priceLeft"},"mark":{"type":"text","align":"left","baseline":"middle","fontSize":7},"encoding":{"y":{"field":"p","type":"quantitative","title":null},"text":{"field":"t"},"color":{"field":"k","type":"nominal","scale":{"domain":["level","rising","sell","buy","grey","dark","teal","blue","white"],"range":["#1c3fb8","#2a5ce6","#f26a73","#5b83ff","#6a6d78","#333333","#22ab94","#6f8fff","#ffffff"]},"legend":null}}}
]}
],
"resolve":{"scale":{"y":"independent","color":"independent","stroke":"independent","fill":"independent"},"axis":{"y":"independent"}}
}
